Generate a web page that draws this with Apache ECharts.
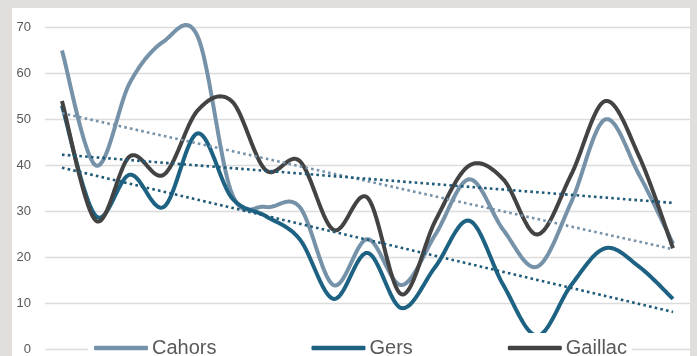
<!DOCTYPE html>
<html>
<head>
<meta charset="utf-8">
<style>
  html, body { margin: 0; padding: 0; background: #E1DEDB; width: 697px; height: 356px; overflow: hidden; }
  #chart { position: absolute; left: 12px; top: 8px; width: 678px; height: 348px; background: #FFFFFF; }
</style>
<script src="https://cdn.jsdelivr.net/npm/echarts@6/dist/echarts.min.js"></script>
</head>
<body>
<div id="chart"></div>
<script>
// Sample points along the horizontal axis (not labelled)
const points = ['1','2','3','4','5','6','7','8','9','10','11','12','13','14','15','16','17','18','19'];

// Series values
const cahors  = [65, 40, 58, 67, 68, 34, 31, 31, 14, 24, 14, 25, 37, 26, 18, 32, 50, 38, 23];
const gers    = [53, 29, 38, 31, 47, 33, 29, 24, 11, 21,  9, 18, 28, 14,  3, 14, 22, 18, 11];
const gaillac = [54, 28, 42, 38, 52, 54, 39, 41, 26, 33, 12, 28, 40, 37, 25, 38, 54, 42, 22];

// Value axis ticks
const yTicks = [0, 10, 20, 30, 40, 50, 60, 70];

// Least-squares straight line through a series, evaluated at every point
function linearTrend(values) {
  const n = values.length;
  let sx = 0, sy = 0, sxx = 0, sxy = 0;
  values.forEach((v, i) => { sx += i; sy += v; sxx += i * i; sxy += i * v; });
  const slope = (n * sxy - sx * sy) / (n * sxx - sx * sx);
  const intercept = (sy - slope * sx) / n;
  return values.map((_, i) => intercept + slope * i);
}

// Catmull-Rom style smoothing of pixel points, sampled densely into a polyline
function smoothPoints(pts, steps) {
  const out = [pts[0]];
  for (let i = 0; i < pts.length - 1; i++) {
    const p0 = pts[i - 1] || pts[i];
    const p1 = pts[i];
    const p2 = pts[i + 1];
    const p3 = pts[i + 2] || pts[i + 1];
    const c1 = [p1[0] + (p2[0] - p0[0]) / 6, p1[1] + (p2[1] - p0[1]) / 6];
    const c2 = [p2[0] - (p3[0] - p1[0]) / 6, p2[1] - (p3[1] - p1[1]) / 6];
    for (let s = 1; s <= steps; s++) {
      const t = s / steps, u = 1 - t;
      const a = u * u * u, b = 3 * u * u * t, c = 3 * u * t * t, d = t * t * t;
      out.push([
        a * p1[0] + b * c1[0] + c * c2[0] + d * p2[0],
        a * p1[1] + b * c1[1] + c * c2[1] + d * p2[1]
      ]);
    }
  }
  return out;
}

const C_CAHORS = '#7692A9';
const C_GERS = '#1D6282';
const C_GAILLAC = '#434343';
const C_TREND_DARK = '#1F5B79';

const chart = echarts.init(document.getElementById('chart'), null, { renderer: 'canvas' });

function smoothLine(name, values, color) {
  return {
    name, type: 'custom', coordinateSystem: 'cartesian2d',
    data: values.map((v, i) => [i, v]),
    encode: { x: 0, y: 1 },
    itemStyle: { color },
    silent: true, z: 2,
    renderItem(params, api) {
      if (params.dataIndex !== 0) return null;
      const pts = values.map((v, i) => api.coord([i, v]));
      return {
        type: 'polyline',
        shape: { points: smoothPoints(pts, 24) },
        style: { stroke: color, lineWidth: 4, fill: null, lineJoin: 'round' }
      };
    }
  };
}
function trendLine(data, color) {
  return {
    type: 'line', data, smooth: false, showSymbol: false, symbol: 'none',
    lineStyle: { color, width: 2.6, type: [2.6, 3.2] },
    emphasis: { disabled: true }, silent: true, z: 3
  };
}

chart.setOption({
  animation: false,
  backgroundColor: '#FFFFFF',
  textStyle: { fontFamily: 'Liberation Sans, Arial, sans-serif' },
  grid: { left: 33, top: 19.5, width: 655.5, height: 325, containLabel: false },
  xAxis: {
    type: 'category', data: points, boundaryGap: true,
    axisLine: { show: false }, axisTick: { show: false }, axisLabel: { show: false },
    splitLine: { show: false }
  },
  yAxis: {
    type: 'value', min: yTicks[0], max: yTicks[yTicks.length - 1], interval: 10,
    axisLine: { show: false }, axisTick: { show: false },
    axisLabel: { color: '#595959', fontSize: 13, margin: 14 },
    splitLine: { lineStyle: { color: '#DCDCDC', width: 1.3 } }
  },
  legend: {
    data: [
      { name: 'Cahors', itemStyle: { color: C_CAHORS } },
      { name: 'Gers', itemStyle: { color: C_GERS } },
      { name: 'Gaillac', itemStyle: { color: C_GAILLAC } }
    ],
    left: 76, top: 325,
    padding: [5, 5, 10, 6],
    backgroundColor: '#FFFFFF',
    icon: 'roundRect',
    itemWidth: 54, itemHeight: 4.5, itemGap: 95,
    textStyle: { color: '#595959', fontSize: 20, lineHeight: 20, padding: [0, 0, 0, -1] },
    selectedMode: false
  },
  series: [
    smoothLine('Cahors', cahors, C_CAHORS),
    smoothLine('Gers', gers, C_GERS),
    smoothLine('Gaillac', gaillac, C_GAILLAC),
    trendLine(linearTrend(cahors), C_CAHORS),
    trendLine(linearTrend(gers), C_TREND_DARK),
    trendLine(linearTrend(gaillac), C_TREND_DARK)
  ]
});
</script>
</body>
</html>
